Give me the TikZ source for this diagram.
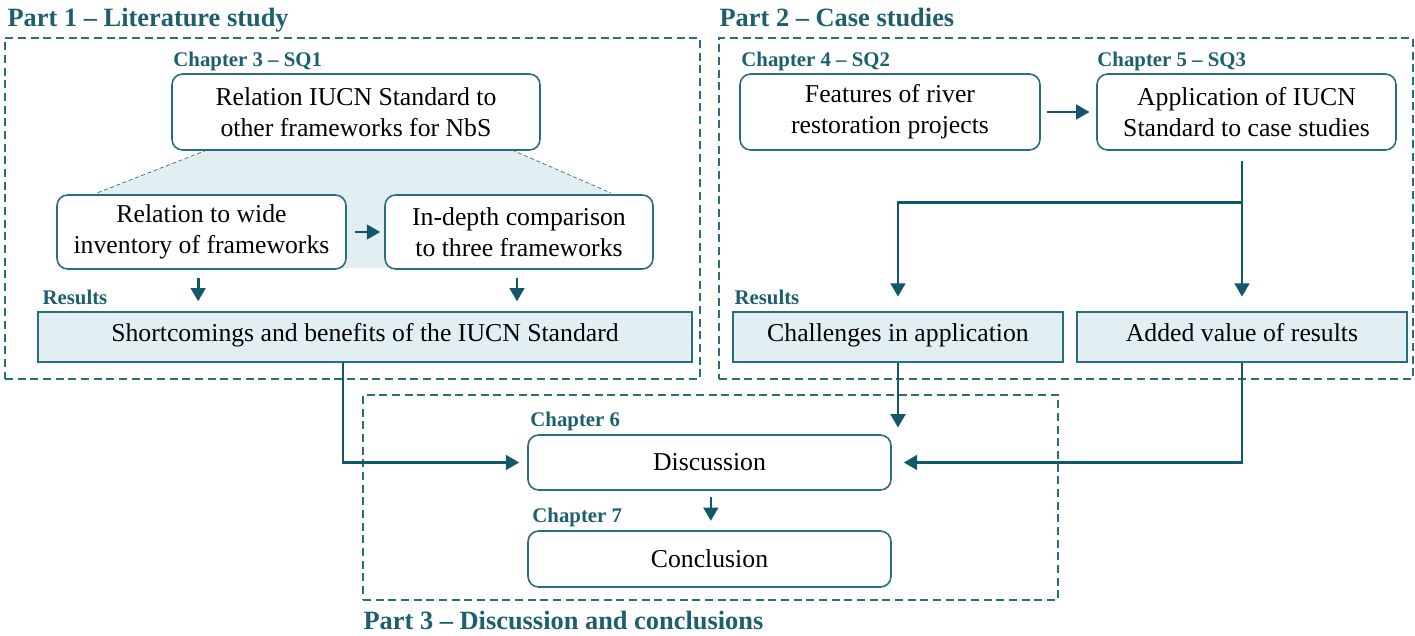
\documentclass[tikz,border=0pt]{standalone}
\usepackage{fontspec}
\setmainfont{Liberation Serif}
\usetikzlibrary{arrows.meta,fit,calc}

\definecolor{headc}{HTML}{1D5F6E}
\definecolor{boxc}{HTML}{2A6D7B}
\definecolor{arrc}{HTML}{125868}
\definecolor{resfill}{HTML}{E2EFF2}

\newcommand{\bodyfont}{\fontsize{19.3}{23.5}\selectfont}
\newcommand{\labfont}{\fontsize{15.6}{18}\selectfont\bfseries}
\newcommand{\headfont}{\fontsize{19.8}{22}\selectfont\bfseries}

\tikzset{
  stagebox/.style={draw=boxc, line width=1.2pt, rounded corners=8pt, fill=white,
    inner sep=0pt, align=center, font=\bodyfont},
  resbox/.style={draw=boxc, line width=1pt, fill=resfill, inner sep=0pt,
    text height=0.85em, text depth=0.12em, font=\bodyfont},
  boxsize/.style 2 args={minimum width=#1, minimum height=#2},
  partframe/.style={draw=boxc, line width=1pt, dash pattern=on 6pt off 3.5pt, inner sep=0pt},
  arr/.style={draw=arrc, line width=2pt, -{Triangle[length=10pt,width=11pt]}},
  lab/.style={font=\labfont, text=headc, inner sep=0pt, anchor=base west},
  parttitle/.style={font=\headfont, text=headc, inner sep=0pt, anchor=base west},
  zoomline/.style={draw=boxc, line width=0.5pt, densely dashed}
}

\begin{document}
\begin{tikzpicture}[x=0.75pt, y=-0.75pt]
\useasboundingbox (0,0) rectangle (1415,636);

% dashed frames of the three parts
\node[partframe, fit={(5,38) (700,379)}] (p1) {};
\node[partframe, fit={(719,38) (1413,379)}] (p2) {};
\node[partframe, fit={(363,395) (1058,600)}] (p3) {};

\node[parttitle] (t1) at ($(p1.north west)+(3,-11)$) {Part 1 – Literature study};
\node[parttitle] (t2) at ($(p2.north west)+(1,-11)$) {Part 2 – Case studies};
\node[parttitle] (t3) at ($(p3.south west)+(1,29)$) {Part 3 – Discussion and conclusions};

% widening band below the SQ1 box
\fill[resfill] (207,150) -- (512,150) -- (611,193) -- (611,268) -- (97,268) -- (97,193) -- cycle;
\draw[zoomline] (207,150) -- (97,193);
\draw[zoomline] (512,150) -- (611,193);

% Part 1
\node[stagebox, boxsize={276pt}{57pt}] (s1) at (356,112) {Relation IUCN Standard to\\other frameworks for NbS};
\node[stagebox, boxsize={216.75pt}{55.5pt}] (s1a) at (201.5,232) {Relation to wide\\inventory of frameworks};
\node[stagebox, boxsize={201pt}{55.5pt}] (s1b) at (519,232) {In-depth comparison\\to three frameworks};
\node[resbox, boxsize={490.5pt}{37.5pt}] (r1) at (365,337) {Shortcomings and benefits of the IUCN Standard};

\node[lab] (c3) at ($(s1.north west)+(2,-7)$) {Chapter 3 – SQ1};
\node[lab] (res1) at ($(r1.north west)+(5,-7)$) {Results};

% Part 2
\node[stagebox, boxsize={225pt}{57pt}] (s2) at (890,112) {Features of river\\restoration projects};
\node[stagebox, boxsize={224.25pt}{57pt}] (s3) at (1246.5,112) {Application of IUCN\\Standard to case studies};
\node[resbox, boxsize={247.5pt}{37.5pt}] (r2) at (898,337) {Challenges in application};
\node[resbox, boxsize={247.5pt}{37.5pt}] (r3) at (1242,337) {Added value of results};

\node[lab] (c4) at ($(s2.north west)+(2,-7)$) {Chapter 4 – SQ2};
\node[lab] (c5) at ($(s3.north west)+(1,-7)$) {Chapter 5 – SQ3};
\node[lab] (res2) at ($(r2.north west)+(2,-7)$) {Results};

% Part 3
\node[stagebox, boxsize={272.25pt}{41.25pt}] (d) at (709.5,462.5) {Discussion};
\node[stagebox, boxsize={272.25pt}{42pt}] (c) at (709.5,559) {Conclusion};

\node[lab] (c6) at ($(d.north west)+(3,-8)$) {Chapter 6};
\node[lab] (c7) at ($(c.north west)+(5,-8)$) {Chapter 7};

% connectors
\draw[arr, shorten <=6pt, shorten >=3pt] (s1a) -- (s1b);
\draw[arr, shorten <=6pt, shorten >=7.5pt] ([xshift=-2.5pt]s1a.south) -- ([xshift=-2.5pt]s1a.south |- r1.north);
\draw[arr, shorten <=6pt, shorten >=7.5pt] ([xshift=-1.5pt]s1b.south) -- ([xshift=-1.5pt]s1b.south |- r1.north);

\draw[arr, shorten <=5pt, shorten >=5pt] (s2) -- (s3);
\coordinate (fork) at ($(s3.south -| r3.north)+(0,52)$);
\draw[arr, shorten <=7.5pt, shorten >=11pt] (s3.south -| r3.north) -- (r3.north);
\draw[arr, shorten >=11pt] (fork) -| (r2.north);

\draw[arr, shorten >=6pt] ([xshift=-16.5pt]r1.south) |- (d.west);
\draw[arr, shorten >=5pt] (r2.south) -- (r2.south |- d.north);
\draw[arr, shorten >=9pt] (r3.south) |- (d.east);
\draw[arr, shorten <=5pt, shorten >=7pt] ([xshift=1pt]d.south) -- ([xshift=1pt]d.south |- c.north);
\end{tikzpicture}
\end{document}
